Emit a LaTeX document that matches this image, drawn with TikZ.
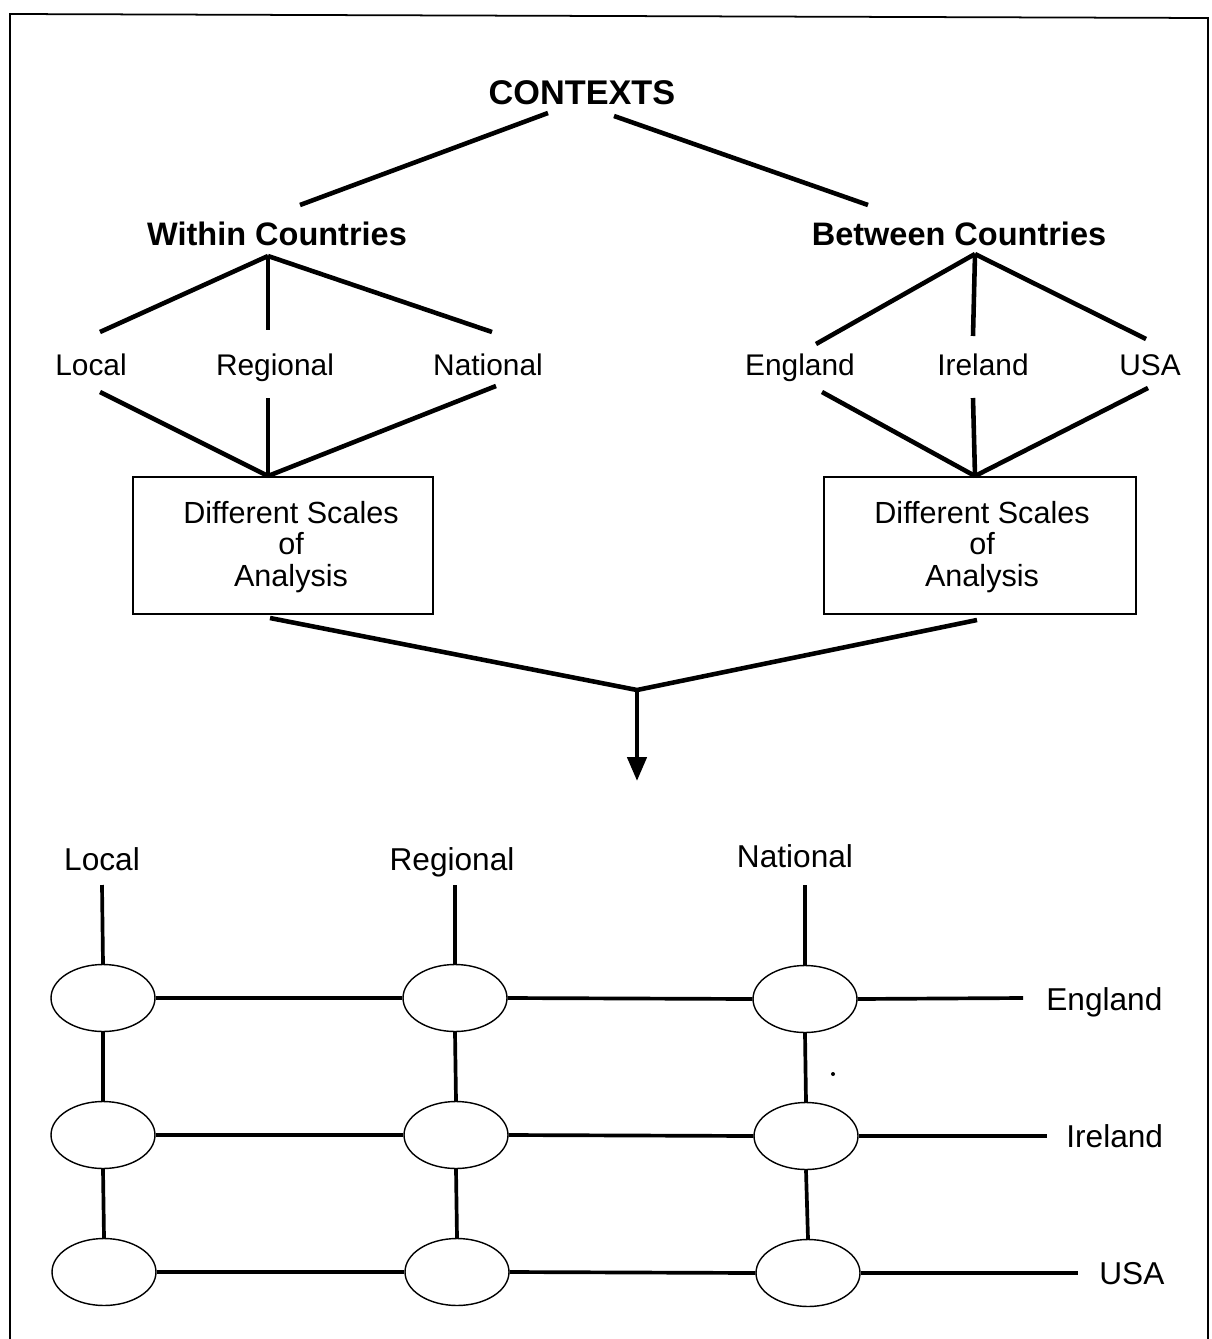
\documentclass[tikz,border=0pt]{standalone}
\usepackage{fontspec}
\setmainfont{Liberation Sans}
\usetikzlibrary{shapes.geometric,arrows.meta}
\begin{document}
\begin{tikzpicture}[x=0.02cm,y=-0.02cm,
  conn/.style={line width=2.6pt},
  gridline/.style={line width=2.1pt},
  frameline/.style={line width=1pt},
  head/.style={font=\fontsize{18.5}{20}\selectfont\bfseries, inner sep=0pt, anchor=base},
  lab/.style={font=\fontsize{17}{19}\selectfont, inner sep=0pt, anchor=base},
  glab/.style={font=\fontsize{18}{20}\selectfont, inner sep=0pt, anchor=base},
  scalebox/.style={draw, line width=0.8pt, minimum height=2.74cm, inner sep=0pt},
  boxtext/.style={align=center, font=\fontsize{17.4}{18.1}\selectfont, inner sep=0pt},
  cell/.style={draw, ellipse, line width=0.8pt, minimum width=2.08cm,
               minimum height=1.34cm, inner sep=0pt}
]
\useasboundingbox (0,0) rectangle (1211,1339);

% frame
\coordinate (fTL) at (10,14);
\coordinate (fBL) at (10,1339);
\coordinate (fTR) at (1208,18);
\coordinate (fBR) at (1208,1339);
\draw[frameline] (fBL) -- (fTL) -- (fTR) -- (fBR);

% ---------- upper tree ----------
\node[head, font=\fontsize{19.5}{21}\selectfont\bfseries] (ctx) at (582,104) {CONTEXTS};
\node[head] (within) at (277,245) {Within Countries};
\node[head] (between) at (959,245) {Between Countries};

\coordinate (ctxL) at (548,113);
\coordinate (ctxR) at (614,116);
\coordinate (withinT) at (300,205);
\coordinate (betweenT) at (868,205);
\draw[conn] (ctxL) -- (withinT);
\draw[conn] (ctxR) -- (betweenT);

% within-country scales
\node[lab] (wLocal) at (91,375) {Local};
\node[lab] (wRegional) at (275,375) {Regional};
\node[lab] (wNational) at (488,375) {National};

\coordinate (withinA) at (268,256);
\coordinate (wLocalT) at (100,332);
\coordinate (wRegionalT) at (268,330);
\coordinate (wNationalT) at (492,332);
\draw[conn] (withinA) -- (wLocalT);
\draw[conn] (withinA) -- (wRegionalT);
\draw[conn] (withinA) -- (wNationalT);

\node[scalebox, minimum width=6cm] (boxL) at (283,545.5) {};
\node[boxtext] (boxLtext) at (291,547) {Different Scales\\of\\Analysis};

\coordinate (wLocalB) at (100,392);
\coordinate (wRegionalB) at (268,398);
\coordinate (wNationalB) at (496,386);
\coordinate (boxLT) at (268,476);
\draw[conn] (wLocalB) -- (boxLT);
\draw[conn] (wRegionalB) -- (boxLT);
\draw[conn] (wNationalB) -- (boxLT);

% between-country comparison
\node[lab] (bEngland) at (800,375) {England};
\node[lab] (bIreland) at (983,375) {Ireland};
\node[lab] (bUSA) at (1150,375) {USA};

\coordinate (betweenA) at (975,254);
\coordinate (bEnglandT) at (816,344);
\coordinate (bIrelandT) at (973,336);
\coordinate (bUSAT) at (1146,339);
\draw[conn] (betweenA) -- (bEnglandT);
\draw[conn] (betweenA) -- (bIrelandT);
\draw[conn] (betweenA) -- (bUSAT);

\node[scalebox, minimum width=6.24cm] (boxR) at (980,545.5) {};
\node[boxtext] (boxRtext) at (982,547) {Different Scales\\of\\Analysis};

\coordinate (bEnglandB) at (822,392);
\coordinate (bIrelandB) at (973,398);
\coordinate (bUSAB) at (1148,388);
\coordinate (boxRT) at (975,476);
\draw[conn] (bEnglandB) -- (boxRT);
\draw[conn] (bIrelandB) -- (boxRT);
\draw[conn] (bUSAB) -- (boxRT);

% merge and arrow
\coordinate (boxLB) at (270,618);
\coordinate (boxRB) at (977,620);
\coordinate (merge) at (637,690);
\coordinate (arrowTip) at (637,781);
\draw[conn, line join=miter] (boxLB) -- (merge) -- (boxRB);
\draw[conn, -{Triangle[width=0.38cm,length=0.48cm]}] (merge) -- (arrowTip);

% ---------- lower grid ----------
\node[glab] (gLocal) at (102,870) {Local};
\node[glab] (gRegional) at (452,870) {Regional};
\node[glab] (gNational) at (795,867) {National};

\node[cell] (e11) at (103,998) {};
\node[cell] (e12) at (455,998) {};
\node[cell] (e13) at (805,999) {};
\node[cell] (e21) at (103,1135) {};
\node[cell] (e22) at (456,1135) {};
\node[cell] (e23) at (806,1136) {};
\node[cell] (e31) at (104,1272) {};
\node[cell] (e32) at (457,1272) {};
\node[cell] (e33) at (808,1273) {};

\node[glab, anchor=base west] (gEngland) at (1046,1010) {England};
\node[glab, anchor=base west] (gIreland) at (1066,1147) {Ireland};
\node[glab, anchor=base west] (gUSA) at (1099,1284) {USA};

\coordinate (cLocalT) at (102,885);
\coordinate (cRegionalT) at (455,885);
\coordinate (cNationalT) at (805,885);
\coordinate (rEnglandE) at (1023,998);
\coordinate (rIrelandE) at (1047,1136);
\coordinate (rUSAE) at (1078,1273);

% columns
\draw[gridline] (cLocalT) -- (e11.north);
\draw[gridline] (e11.south) -- (e21.north);
\draw[gridline] (e21.south) -- (e31.north);
\draw[gridline] (cRegionalT) -- (e12.north);
\draw[gridline] (e12.south) -- (e22.north);
\draw[gridline] (e22.south) -- (e32.north);
\draw[gridline] (cNationalT) -- (e13.north);
\draw[gridline] (e13.south) -- (e23.north);
\draw[gridline] (e23.south) -- (e33.north);

% rows
\draw[gridline] (e11.east) -- (e12.west);
\draw[gridline] (e12.east) -- (e13.west);
\draw[gridline] (e13.east) -- (rEnglandE);
\draw[gridline] (e21.east) -- (e22.west);
\draw[gridline] (e22.east) -- (e23.west);
\draw[gridline] (e23.east) -- (rIrelandE);
\draw[gridline] (e31.east) -- (e32.west);
\draw[gridline] (e32.east) -- (e33.west);
\draw[gridline] (e33.east) -- (rUSAE);

% stray dot
\fill (833,1074) circle (2);
\end{tikzpicture}
\end{document}
